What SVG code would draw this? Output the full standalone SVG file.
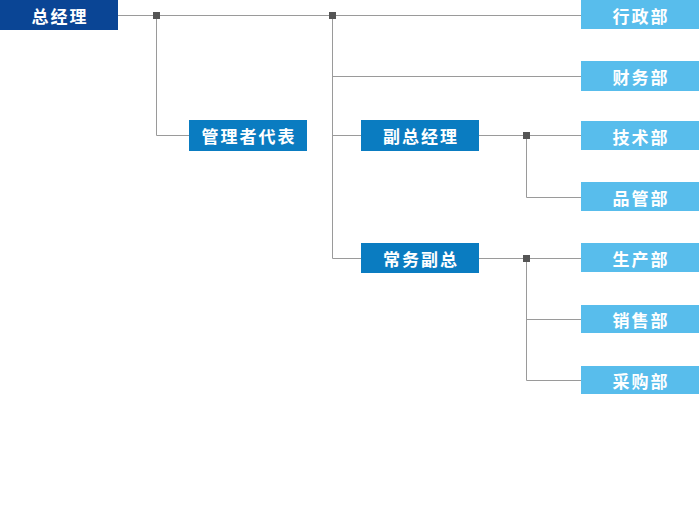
<svg xmlns="http://www.w3.org/2000/svg" width="699" height="517" viewBox="0 0 699 517">
<style>
.t{font-family:"Noto Sans CJK SC","Noto Sans",sans-serif;font-size:17px;font-weight:bold;fill:#fff;text-anchor:middle;dominant-baseline:central;letter-spacing:2px}
.ln{stroke:#9a9a9a;stroke-width:1;fill:none}
.sq{fill:#555}
.d{fill:#0a4595}
.m{fill:#0a7cc1}
.l{fill:#58bdec}
</style>
<rect width="699" height="517" fill="#fff"/>
<g id="connectors">
<path class="ln" d="M118 15.5H581M156.5 15.5V135.5H189M332.5 15.5V258.5H361M332.5 76.5H581M332.5 135.5H361M479 135.5H581M526.5 135.5V197.5H581M479 258.5H581M526.5 258.5V380.5H581M526.5 319.5H581"/>
<rect class="sq" x="153" y="12" width="7" height="7"/>
<rect class="sq" x="329" y="12" width="7" height="7"/>
<rect class="sq" x="523" y="132" width="7" height="7"/>
<rect class="sq" x="523" y="255" width="7" height="7"/>
</g>
<g id="n-zjl"><rect class="d" x="0" y="0" width="118" height="30"/><text class="t" x="60" y="15">总经理</text></g>
<g id="n-gldb"><rect class="m" x="189" y="120" width="118" height="31"/><text class="t" x="249" y="135.5">管理者代表</text></g>
<g id="n-fzjl"><rect class="m" x="361" y="120" width="118" height="31"/><text class="t" x="421" y="135.5">副总经理</text></g>
<g id="n-cwfz"><rect class="m" x="361" y="243" width="118" height="30"/><text class="t" x="421" y="258">常务副总</text></g>
<g id="n-xzb"><rect class="l" x="581" y="0" width="118" height="29"/><text class="t" x="641" y="15">行政部</text></g>
<g id="n-cwb"><rect class="l" x="581" y="61" width="118" height="30"/><text class="t" x="641" y="76">财务部</text></g>
<g id="n-jsb"><rect class="l" x="581" y="121" width="118" height="29"/><text class="t" x="641" y="136">技术部</text></g>
<g id="n-pgb"><rect class="l" x="581" y="182" width="118" height="29"/><text class="t" x="641" y="197">品管部</text></g>
<g id="n-scb"><rect class="l" x="581" y="243" width="118" height="29"/><text class="t" x="641" y="258">生产部</text></g>
<g id="n-xsb"><rect class="l" x="581" y="305" width="118" height="28"/><text class="t" x="641" y="319">销售部</text></g>
<g id="n-cgb"><rect class="l" x="581" y="366" width="118" height="28"/><text class="t" x="641" y="380">采购部</text></g>
</svg>
